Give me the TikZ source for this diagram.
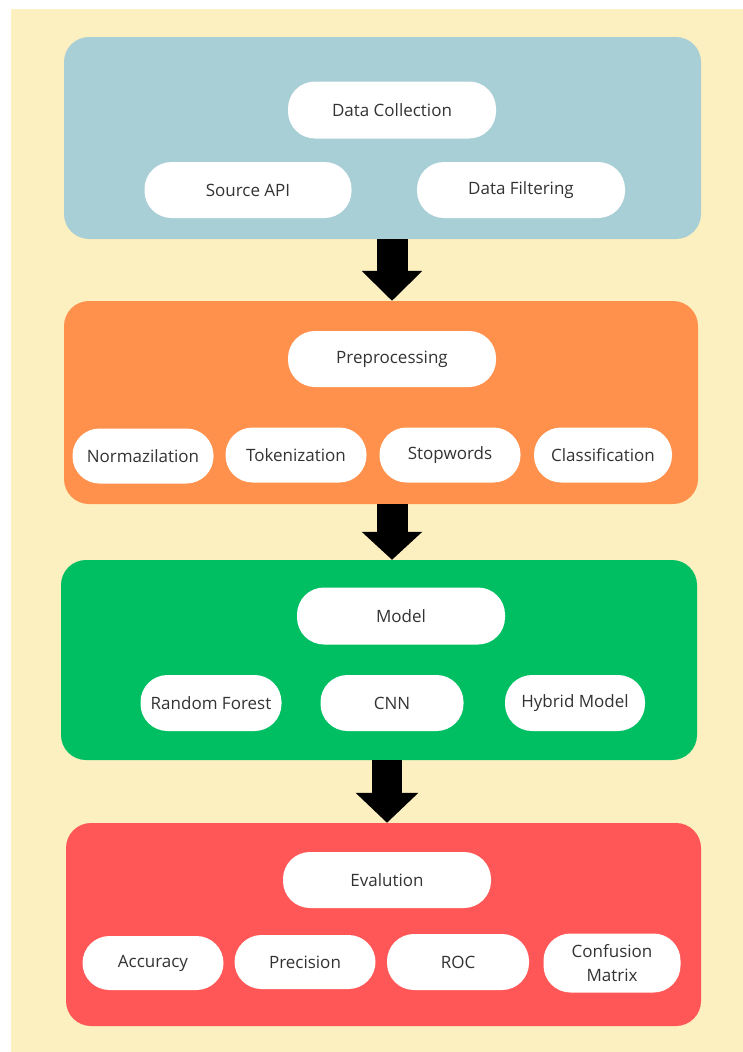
\documentclass[tikz,border=0pt]{standalone}
\usepackage{fontspec}
\setmainfont{Open Sans}
\usetikzlibrary{arrows.meta}
\definecolor{creamC}{HTML}{FDF0C0}
\definecolor{blueC}{HTML}{A9CFD6}
\definecolor{orangeC}{HTML}{FF914D}
\definecolor{greenC}{HTML}{00BF63}
\definecolor{redC}{HTML}{FF5757}
\definecolor{textC}{HTML}{333333}
\tikzset{
  stagebox/.style={rectangle, rounded corners=25pt, inner sep=0pt, draw=none},
  pill/.style={rectangle, rounded corners=27pt, fill=white, inner sep=0pt,
    minimum height=55pt, minimum width=141pt, text=textC, align=center,
    font=\fontsize{17}{24}\selectfont},
  toppill/.style={pill, minimum width=208pt, minimum height=57pt},
  flowarrow/.style={draw=black, line width=31pt, -{Triangle[length=30pt,width=59pt]}}
}
\begin{document}
\begin{tikzpicture}[x=1pt,y=-1pt]
\useasboundingbox (0,0) rectangle (743,1052);
\fill[creamC] (11,9) rectangle (743,1052);
% stage boxes
\node[stagebox, fill=blueC, minimum width=637pt, minimum height=202pt] (blue) at (382.5,138) {};
\node[stagebox, fill=orangeC, minimum width=634pt, minimum height=203pt] (orange) at (381,402.5) {};
\node[stagebox, fill=greenC, minimum width=636pt, minimum height=200pt] (green) at (379,660) {};
\node[stagebox, fill=redC, minimum width=635pt, minimum height=203pt] (red) at (383.5,924.5) {};
% data collection
\node[toppill] (dc) at (392,110) {Data Collection};
\node[pill, minimum width=207pt, minimum height=56pt] (api) at (248,190) {Source API};
\node[pill, minimum width=208pt, minimum height=56pt] (filt) at (521,190) {Data Filtering};
% preprocessing
\node[toppill, minimum height=56pt] (pre) at (392,359) {Preprocessing};
\node[pill] (norm) at (143,456) {Normazilation};
\node[pill] (tok) at (296,455) {Tokenization};
\node[pill] (stop) at (450,455) {Stopwords};
\node[pill, minimum width=138pt] (cls) at (603,455) {Classification};
% model
\node[toppill] (mod) at (401,616) {Model};
\node[pill, minimum height=56pt] (rf) at (211,703) {Random Forest};
\node[pill, minimum width=143pt, minimum height=56pt] (cnn) at (392,703) {CNN};
\node[pill, minimum width=140pt, minimum height=56pt] (hyb) at (575,703) {Hybrid Model};
% evaluation
\node[toppill, minimum height=56pt] (ev) at (387,880) {Evalution};
\node[pill, minimum height=54pt] (acc) at (153,963) {Accuracy};
\node[pill, minimum height=54pt] (prec) at (305,962) {Precision};
\node[pill, minimum width=142pt, minimum height=56pt] (roc) at (458,962) {ROC};
\node[pill, minimum width=137pt, minimum height=59pt] (conf) at (612,963) {Confusion\\Matrix};
% arrows
\draw[flowarrow] (dc |- blue.south) -- (dc |- orange.north);
\draw[flowarrow, -{Triangle[length=28pt,width=59pt]}] (dc |- orange.south) -- (dc |- green.north);
\draw[flowarrow, line width=30pt, -{Triangle[length=30pt,width=61pt]}] (ev |- green.south) -- (ev |- red.north);
\end{tikzpicture}
\end{document}
